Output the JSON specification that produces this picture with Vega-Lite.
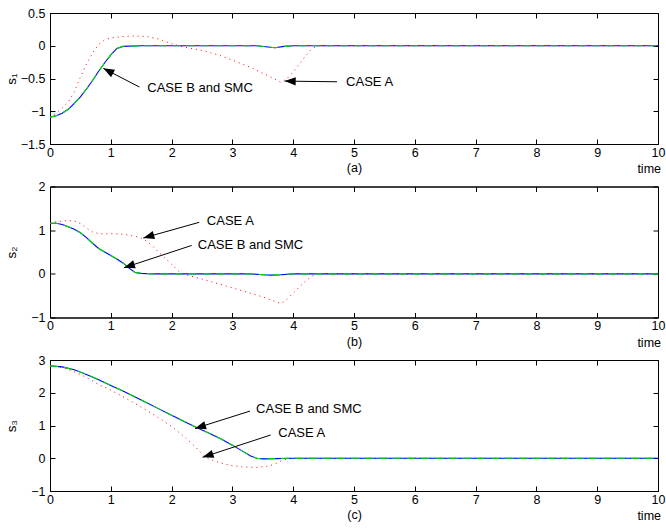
{
"$schema": "https://vega.github.io/schema/vega-lite/v6.json",
"background": "white",
"padding": {"left": 3, "top": 6, "right": 0, "bottom": 0},
"spacing": 42.5,
"bounds": "flush",
"config": {
 "font": "Liberation Sans",
 "view": {"stroke": "black", "strokeWidth": 1},
 "axis": {"grid": false, "domainColor": "black", "tickColor": "black", "labelColor": "black", "titleColor": "black", "labelFont": "Liberation Sans", "titleFont": "Liberation Sans", "labelFontSize": 12.5, "titleFontSize": 12.5, "titleFontWeight": "normal", "tickSize": -5, "labelPadding": 10, "domainWidth": 1, "tickWidth": 1},
 "axisX": {"labelPadding": 7}
},
"datasets": {
 "a": [
  {"s":"A","t":0,"v":-1.09},{"s":"A","t":0.1,"v":-1.03},{"s":"A","t":0.2,"v":-0.95},{"s":"A","t":0.3,"v":-0.86},{"s":"A","t":0.4,"v":-0.7},{"s":"A","t":0.5,"v":-0.48},{"s":"A","t":0.6,"v":-0.28},{"s":"A","t":0.7,"v":-0.11},{"s":"A","t":0.8,"v":0.02},{"s":"A","t":0.9,"v":0.09},{"s":"A","t":1.0,"v":0.12},{"s":"A","t":1.2,"v":0.14},{"s":"A","t":1.4,"v":0.15},{"s":"A","t":1.6,"v":0.14},{"s":"A","t":1.8,"v":0.1},{"s":"A","t":2.0,"v":0.03},{"s":"A","t":2.2,"v":-0.02},{"s":"A","t":2.5,"v":-0.07},{"s":"A","t":2.8,"v":-0.15},{"s":"A","t":3.0,"v":-0.22},{"s":"A","t":3.3,"v":-0.33},{"s":"A","t":3.5,"v":-0.42},{"s":"A","t":3.7,"v":-0.51},{"s":"A","t":3.8,"v":-0.56},{"s":"A","t":3.9,"v":-0.5},{"s":"A","t":4.0,"v":-0.4},{"s":"A","t":4.1,"v":-0.28},{"s":"A","t":4.2,"v":-0.16},{"s":"A","t":4.3,"v":-0.05},{"s":"A","t":4.4,"v":0},{"s":"A","t":10,"v":0},
  {"s":"B","t":0,"v":-1.09},{"s":"B","t":0.1,"v":-1.07},{"s":"B","t":0.2,"v":-1.03},{"s":"B","t":0.3,"v":-0.97},{"s":"B","t":0.4,"v":-0.88},{"s":"B","t":0.5,"v":-0.78},{"s":"B","t":0.6,"v":-0.66},{"s":"B","t":0.7,"v":-0.53},{"s":"B","t":0.8,"v":-0.39},{"s":"B","t":0.9,"v":-0.26},{"s":"B","t":1.0,"v":-0.14},{"s":"B","t":1.1,"v":-0.04},{"s":"B","t":1.2,"v":-0.01},{"s":"B","t":1.5,"v":0},{"s":"B","t":3.4,"v":0},{"s":"B","t":3.55,"v":-0.015},{"s":"B","t":3.7,"v":-0.03},{"s":"B","t":3.85,"v":-0.01},{"s":"B","t":4.0,"v":0},{"s":"B","t":10,"v":0},
  {"kind":"arrow","t":1.47,"v":-0.63,"t2":0.877,"v2":-0.345,"heading":208},
  {"kind":"arrow","t":4.72,"v":-0.55,"t2":3.86,"v2":-0.54,"heading":181},
  {"kind":"note","label":"CASE B and SMC","t":1.6,"v":-0.64},
  {"kind":"note","label":"CASE A","t":4.87,"v":-0.56},
  {"kind":"unit","label":"time","t":10,"v":-1.5}
 ],
 "b": [
  {"s":"A","t":0,"v":1.16},{"s":"A","t":0.1,"v":1.19},{"s":"A","t":0.2,"v":1.21},{"s":"A","t":0.3,"v":1.22},{"s":"A","t":0.4,"v":1.21},{"s":"A","t":0.5,"v":1.15},{"s":"A","t":0.6,"v":1.05},{"s":"A","t":0.7,"v":0.96},{"s":"A","t":0.8,"v":0.92},{"s":"A","t":0.9,"v":0.91},{"s":"A","t":1.0,"v":0.92},{"s":"A","t":1.2,"v":0.91},{"s":"A","t":1.4,"v":0.86},{"s":"A","t":1.5,"v":0.82},{"s":"A","t":1.6,"v":0.74},{"s":"A","t":1.7,"v":0.62},{"s":"A","t":1.8,"v":0.48},{"s":"A","t":1.9,"v":0.35},{"s":"A","t":2.0,"v":0.22},{"s":"A","t":2.1,"v":0.08},{"s":"A","t":2.2,"v":-0.01},{"s":"A","t":2.5,"v":-0.12},{"s":"A","t":3.0,"v":-0.32},{"s":"A","t":3.5,"v":-0.53},{"s":"A","t":3.8,"v":-0.68},{"s":"A","t":3.9,"v":-0.58},{"s":"A","t":4.0,"v":-0.44},{"s":"A","t":4.1,"v":-0.3},{"s":"A","t":4.2,"v":-0.17},{"s":"A","t":4.3,"v":-0.06},{"s":"A","t":4.4,"v":0},{"s":"A","t":10,"v":0},
  {"s":"B","t":0,"v":1.16},{"s":"B","t":0.1,"v":1.16},{"s":"B","t":0.2,"v":1.13},{"s":"B","t":0.3,"v":1.08},{"s":"B","t":0.4,"v":1.02},{"s":"B","t":0.5,"v":0.94},{"s":"B","t":0.6,"v":0.83},{"s":"B","t":0.7,"v":0.7},{"s":"B","t":0.8,"v":0.58},{"s":"B","t":0.9,"v":0.5},{"s":"B","t":1.0,"v":0.42},{"s":"B","t":1.1,"v":0.34},{"s":"B","t":1.2,"v":0.25},{"s":"B","t":1.3,"v":0.13},{"s":"B","t":1.4,"v":0.03},{"s":"B","t":1.5,"v":0.01},{"s":"B","t":1.7,"v":0},{"s":"B","t":3.3,"v":0},{"s":"B","t":3.5,"v":-0.02},{"s":"B","t":3.65,"v":-0.03},{"s":"B","t":3.8,"v":-0.02},{"s":"B","t":4.0,"v":0},{"s":"B","t":10,"v":0},
  {"kind":"arrow","t":2.455,"v":1.18,"t2":1.535,"v2":0.82,"heading":164},
  {"kind":"arrow","t":2.33,"v":0.65,"t2":1.217,"v2":0.14,"heading":162},
  {"kind":"note","label":"CASE A","t":2.58,"v":1.2},
  {"kind":"note","label":"CASE B and SMC","t":2.43,"v":0.65},
  {"kind":"unit","label":"time","t":10,"v":-1}
 ],
 "c": [
  {"s":"A","t":0,"v":2.82},{"s":"A","t":0.2,"v":2.77},{"s":"A","t":0.4,"v":2.64},{"s":"A","t":0.6,"v":2.47},{"s":"A","t":0.8,"v":2.25},{"s":"A","t":1.0,"v":2.08},{"s":"A","t":1.2,"v":1.88},{"s":"A","t":1.4,"v":1.67},{"s":"A","t":1.6,"v":1.45},{"s":"A","t":1.8,"v":1.22},{"s":"A","t":2.0,"v":0.97},{"s":"A","t":2.2,"v":0.67},{"s":"A","t":2.4,"v":0.33},{"s":"A","t":2.5,"v":0.13},{"s":"A","t":2.6,"v":-0.01},{"s":"A","t":2.8,"v":-0.14},{"s":"A","t":3.0,"v":-0.23},{"s":"A","t":3.2,"v":-0.27},{"s":"A","t":3.4,"v":-0.28},{"s":"A","t":3.6,"v":-0.24},{"s":"A","t":3.7,"v":-0.17},{"s":"A","t":3.8,"v":-0.08},{"s":"A","t":3.9,"v":-0.02},{"s":"A","t":4.0,"v":0},{"s":"A","t":10,"v":0},
  {"s":"B","t":0,"v":2.82},{"s":"B","t":0.2,"v":2.79},{"s":"B","t":0.4,"v":2.7},{"s":"B","t":0.6,"v":2.56},{"s":"B","t":0.8,"v":2.4},{"s":"B","t":1.0,"v":2.22},{"s":"B","t":1.2,"v":2.05},{"s":"B","t":1.4,"v":1.87},{"s":"B","t":1.6,"v":1.69},{"s":"B","t":1.8,"v":1.5},{"s":"B","t":2.0,"v":1.31},{"s":"B","t":2.2,"v":1.13},{"s":"B","t":2.4,"v":0.95},{"s":"B","t":2.6,"v":0.78},{"s":"B","t":2.8,"v":0.6},{"s":"B","t":3.0,"v":0.4},{"s":"B","t":3.2,"v":0.18},{"s":"B","t":3.3,"v":0.07},{"s":"B","t":3.4,"v":0},{"s":"B","t":3.5,"v":-0.02},{"s":"B","t":3.7,"v":-0.01},{"s":"B","t":4.0,"v":0},{"s":"B","t":10,"v":0},
  {"kind":"arrow","t":3.29,"v":1.44,"t2":2.385,"v2":0.91,"heading":162.5},
  {"kind":"arrow","t":3.63,"v":0.71,"t2":2.51,"v2":0.03,"heading":162},
  {"kind":"note","label":"CASE B and SMC","t":3.39,"v":1.49},
  {"kind":"note","label":"CASE A","t":3.755,"v":0.76},
  {"kind":"unit","label":"time","t":10,"v":-1}
 ]
},
"vconcat": [
 {
  "width": 608, "height": 131,
  "data": {"name": "a"},
  "resolve": {"axis": {"x": "independent", "y": "independent"}},
  "layer": [
   {"transform": [{"filter": "datum.s === 'A'"}],
    "mark": {"type": "line", "color": "#ff0000", "strokeDash": [1, 4], "strokeWidth": 1},
    "encoding": {
     "x": {"field": "t", "type": "quantitative", "scale": {"domain": [0, 10], "nice": false, "zero": false}, "axis": {"values": [0,1,2,3,4,5,6,7,8,9,10], "labelFlush": false, "title": "(a)", "titlePadding": 3}},
     "y": {"field": "v", "type": "quantitative", "scale": {"domain": [-1.5, 0.5], "nice": false, "zero": false}, "axis": {"values": [-1.5,-1,-0.5,0,0.5], "format": "~g", "title": "s₁", "titleFontSize": 13.5, "titleX": -35, "titleY": 65.5, "titleAngle": 270, "titleAlign": "center", "titleBaseline": "alphabetic"}}
    }},
   {"transform": [{"filter": "datum.s === 'B'"}],
    "mark": {"type": "line", "color": "#0000ff", "strokeWidth": 1.1},
    "encoding": {"x": {"field": "t", "type": "quantitative", "scale": {"domain": [0, 10], "nice": false, "zero": false}, "axis": null}, "y": {"field": "v", "type": "quantitative", "scale": {"domain": [-1.5, 0.5], "nice": false, "zero": false}, "axis": null}}},
   {"transform": [{"filter": "datum.s === 'B'"}],
    "mark": {"type": "line", "color": "#00dd00", "strokeDash": [8, 6], "strokeWidth": 1.1},
    "encoding": {"x": {"field": "t", "type": "quantitative", "scale": {"domain": [0, 10], "nice": false, "zero": false}, "axis": null}, "y": {"field": "v", "type": "quantitative", "scale": {"domain": [-1.5, 0.5], "nice": false, "zero": false}, "axis": null}}},
   {"transform": [{"filter": "datum.kind === 'arrow'"}],
    "mark": {"type": "rule", "color": "black", "strokeWidth": 1},
    "encoding": {"x": {"field": "t", "type": "quantitative", "scale": {"domain": [0, 10], "nice": false, "zero": false}, "axis": null}, "y": {"field": "v", "type": "quantitative", "scale": {"domain": [-1.5, 0.5], "nice": false, "zero": false}, "axis": null}, "x2": {"field": "t2"}, "y2": {"field": "v2"}}},
   {"transform": [{"filter": "datum.kind === 'arrow'"}],
    "mark": {"type": "point", "shape": "M0,0L-1,-0.38L-1,0.38Z", "filled": true, "color": "black", "opacity": 1, "size": 484},
    "encoding": {"x": {"field": "t2", "type": "quantitative", "scale": {"domain": [0, 10], "nice": false, "zero": false}, "axis": null}, "y": {"field": "v2", "type": "quantitative", "scale": {"domain": [-1.5, 0.5], "nice": false, "zero": false}, "axis": null}, "angle": {"field": "heading", "type": "quantitative", "scale": null}}},
   {"transform": [{"filter": "datum.kind === 'note'"}],
    "mark": {"type": "text", "align": "left", "baseline": "middle", "fontSize": 13, "font": "Liberation Sans", "color": "black"},
    "encoding": {"x": {"field": "t", "type": "quantitative", "scale": {"domain": [0, 10], "nice": false, "zero": false}, "axis": null}, "y": {"field": "v", "type": "quantitative", "scale": {"domain": [-1.5, 0.5], "nice": false, "zero": false}, "axis": null}, "text": {"field": "label"}}},
   {"transform": [{"filter": "datum.kind === 'unit'"}],
    "mark": {"type": "text", "align": "right", "baseline": "middle", "dx": 3, "dy": 25, "fontSize": 12.5, "font": "Liberation Sans", "color": "black"},
    "encoding": {"x": {"field": "t", "type": "quantitative", "scale": {"domain": [0, 10], "nice": false, "zero": false}, "axis": null}, "y": {"field": "v", "type": "quantitative", "scale": {"domain": [-1.5, 0.5], "nice": false, "zero": false}, "axis": null}, "text": {"field": "label"}}},
   {"transform": [{"filter": "datum.s === 'A'"}],
    "mark": {"type": "line", "strokeOpacity": 0},
    "encoding": {
     "x": {"field": "t", "type": "quantitative", "scale": {"domain": [0, 10], "nice": false, "zero": false}, "axis": {"orient": "top", "values": [0,1,2,3,4,5,6,7,8,9,10], "labels": false, "title": null}},
     "y": {"field": "v", "type": "quantitative", "scale": {"domain": [-1.5, 0.5], "nice": false, "zero": false}, "axis": {"orient": "right", "values": [-1.5,-1,-0.5,0,0.5], "labels": false, "title": null}}
    }}
  ]
 },
 {
  "width": 608, "height": 131,
  "data": {"name": "b"},
  "resolve": {"axis": {"x": "independent", "y": "independent"}},
  "layer": [
   {"transform": [{"filter": "datum.s === 'A'"}],
    "mark": {"type": "line", "color": "#ff0000", "strokeDash": [1, 4], "strokeWidth": 1},
    "encoding": {
     "x": {"field": "t", "type": "quantitative", "scale": {"domain": [0, 10], "nice": false, "zero": false}, "axis": {"values": [0,1,2,3,4,5,6,7,8,9,10], "labelFlush": false, "title": "(b)", "titlePadding": 3}},
     "y": {"field": "v", "type": "quantitative", "scale": {"domain": [-1, 2], "nice": false, "zero": false}, "axis": {"values": [-1,0,1,2], "format": "~g", "title": "s₂", "titleFontSize": 13.5, "titleX": -35, "titleY": 65.5, "titleAngle": 270, "titleAlign": "center", "titleBaseline": "alphabetic"}}
    }},
   {"transform": [{"filter": "datum.s === 'B'"}],
    "mark": {"type": "line", "color": "#0000ff", "strokeWidth": 1.1},
    "encoding": {"x": {"field": "t", "type": "quantitative", "scale": {"domain": [0, 10], "nice": false, "zero": false}, "axis": null}, "y": {"field": "v", "type": "quantitative", "scale": {"domain": [-1, 2], "nice": false, "zero": false}, "axis": null}}},
   {"transform": [{"filter": "datum.s === 'B'"}],
    "mark": {"type": "line", "color": "#00dd00", "strokeDash": [8, 6], "strokeWidth": 1.1},
    "encoding": {"x": {"field": "t", "type": "quantitative", "scale": {"domain": [0, 10], "nice": false, "zero": false}, "axis": null}, "y": {"field": "v", "type": "quantitative", "scale": {"domain": [-1, 2], "nice": false, "zero": false}, "axis": null}}},
   {"transform": [{"filter": "datum.kind === 'arrow'"}],
    "mark": {"type": "rule", "color": "black", "strokeWidth": 1},
    "encoding": {"x": {"field": "t", "type": "quantitative", "scale": {"domain": [0, 10], "nice": false, "zero": false}, "axis": null}, "y": {"field": "v", "type": "quantitative", "scale": {"domain": [-1, 2], "nice": false, "zero": false}, "axis": null}, "x2": {"field": "t2"}, "y2": {"field": "v2"}}},
   {"transform": [{"filter": "datum.kind === 'arrow'"}],
    "mark": {"type": "point", "shape": "M0,0L-1,-0.38L-1,0.38Z", "filled": true, "color": "black", "opacity": 1, "size": 484},
    "encoding": {"x": {"field": "t2", "type": "quantitative", "scale": {"domain": [0, 10], "nice": false, "zero": false}, "axis": null}, "y": {"field": "v2", "type": "quantitative", "scale": {"domain": [-1, 2], "nice": false, "zero": false}, "axis": null}, "angle": {"field": "heading", "type": "quantitative", "scale": null}}},
   {"transform": [{"filter": "datum.kind === 'note'"}],
    "mark": {"type": "text", "align": "left", "baseline": "middle", "fontSize": 13, "font": "Liberation Sans", "color": "black"},
    "encoding": {"x": {"field": "t", "type": "quantitative", "scale": {"domain": [0, 10], "nice": false, "zero": false}, "axis": null}, "y": {"field": "v", "type": "quantitative", "scale": {"domain": [-1, 2], "nice": false, "zero": false}, "axis": null}, "text": {"field": "label"}}},
   {"transform": [{"filter": "datum.kind === 'unit'"}],
    "mark": {"type": "text", "align": "right", "baseline": "middle", "dx": 3, "dy": 25, "fontSize": 12.5, "font": "Liberation Sans", "color": "black"},
    "encoding": {"x": {"field": "t", "type": "quantitative", "scale": {"domain": [0, 10], "nice": false, "zero": false}, "axis": null}, "y": {"field": "v", "type": "quantitative", "scale": {"domain": [-1, 2], "nice": false, "zero": false}, "axis": null}, "text": {"field": "label"}}},
   {"transform": [{"filter": "datum.s === 'A'"}],
    "mark": {"type": "line", "strokeOpacity": 0},
    "encoding": {
     "x": {"field": "t", "type": "quantitative", "scale": {"domain": [0, 10], "nice": false, "zero": false}, "axis": {"orient": "top", "values": [0,1,2,3,4,5,6,7,8,9,10], "labels": false, "title": null}},
     "y": {"field": "v", "type": "quantitative", "scale": {"domain": [-1, 2], "nice": false, "zero": false}, "axis": {"orient": "right", "values": [-1,0,1,2], "labels": false, "title": null}}
    }}
  ]
 },
 {
  "width": 608, "height": 131,
  "data": {"name": "c"},
  "resolve": {"axis": {"x": "independent", "y": "independent"}},
  "layer": [
   {"transform": [{"filter": "datum.s === 'A'"}],
    "mark": {"type": "line", "color": "#ff0000", "strokeDash": [1, 4], "strokeWidth": 1},
    "encoding": {
     "x": {"field": "t", "type": "quantitative", "scale": {"domain": [0, 10], "nice": false, "zero": false}, "axis": {"values": [0,1,2,3,4,5,6,7,8,9,10], "labelFlush": false, "title": "(c)", "titlePadding": 3}},
     "y": {"field": "v", "type": "quantitative", "scale": {"domain": [-1, 3], "nice": false, "zero": false}, "axis": {"values": [-1,0,1,2,3], "format": "~g", "title": "s₃", "titleFontSize": 13.5, "titleX": -35, "titleY": 65.5, "titleAngle": 270, "titleAlign": "center", "titleBaseline": "alphabetic"}}
    }},
   {"transform": [{"filter": "datum.s === 'B'"}],
    "mark": {"type": "line", "color": "#0000ff", "strokeWidth": 1.1},
    "encoding": {"x": {"field": "t", "type": "quantitative", "scale": {"domain": [0, 10], "nice": false, "zero": false}, "axis": null}, "y": {"field": "v", "type": "quantitative", "scale": {"domain": [-1, 3], "nice": false, "zero": false}, "axis": null}}},
   {"transform": [{"filter": "datum.s === 'B'"}],
    "mark": {"type": "line", "color": "#00dd00", "strokeDash": [8, 6], "strokeWidth": 1.1},
    "encoding": {"x": {"field": "t", "type": "quantitative", "scale": {"domain": [0, 10], "nice": false, "zero": false}, "axis": null}, "y": {"field": "v", "type": "quantitative", "scale": {"domain": [-1, 3], "nice": false, "zero": false}, "axis": null}}},
   {"transform": [{"filter": "datum.kind === 'arrow'"}],
    "mark": {"type": "rule", "color": "black", "strokeWidth": 1},
    "encoding": {"x": {"field": "t", "type": "quantitative", "scale": {"domain": [0, 10], "nice": false, "zero": false}, "axis": null}, "y": {"field": "v", "type": "quantitative", "scale": {"domain": [-1, 3], "nice": false, "zero": false}, "axis": null}, "x2": {"field": "t2"}, "y2": {"field": "v2"}}},
   {"transform": [{"filter": "datum.kind === 'arrow'"}],
    "mark": {"type": "point", "shape": "M0,0L-1,-0.38L-1,0.38Z", "filled": true, "color": "black", "opacity": 1, "size": 484},
    "encoding": {"x": {"field": "t2", "type": "quantitative", "scale": {"domain": [0, 10], "nice": false, "zero": false}, "axis": null}, "y": {"field": "v2", "type": "quantitative", "scale": {"domain": [-1, 3], "nice": false, "zero": false}, "axis": null}, "angle": {"field": "heading", "type": "quantitative", "scale": null}}},
   {"transform": [{"filter": "datum.kind === 'note'"}],
    "mark": {"type": "text", "align": "left", "baseline": "middle", "fontSize": 13, "font": "Liberation Sans", "color": "black"},
    "encoding": {"x": {"field": "t", "type": "quantitative", "scale": {"domain": [0, 10], "nice": false, "zero": false}, "axis": null}, "y": {"field": "v", "type": "quantitative", "scale": {"domain": [-1, 3], "nice": false, "zero": false}, "axis": null}, "text": {"field": "label"}}},
   {"transform": [{"filter": "datum.kind === 'unit'"}],
    "mark": {"type": "text", "align": "right", "baseline": "middle", "dx": 3, "dy": 25, "fontSize": 12.5, "font": "Liberation Sans", "color": "black"},
    "encoding": {"x": {"field": "t", "type": "quantitative", "scale": {"domain": [0, 10], "nice": false, "zero": false}, "axis": null}, "y": {"field": "v", "type": "quantitative", "scale": {"domain": [-1, 3], "nice": false, "zero": false}, "axis": null}, "text": {"field": "label"}}},
   {"transform": [{"filter": "datum.s === 'A'"}],
    "mark": {"type": "line", "strokeOpacity": 0},
    "encoding": {
     "x": {"field": "t", "type": "quantitative", "scale": {"domain": [0, 10], "nice": false, "zero": false}, "axis": {"orient": "top", "values": [0,1,2,3,4,5,6,7,8,9,10], "labels": false, "title": null}},
     "y": {"field": "v", "type": "quantitative", "scale": {"domain": [-1, 3], "nice": false, "zero": false}, "axis": {"orient": "right", "values": [-1,0,1,2,3], "labels": false, "title": null}}
    }}
  ]
 }
]
}
